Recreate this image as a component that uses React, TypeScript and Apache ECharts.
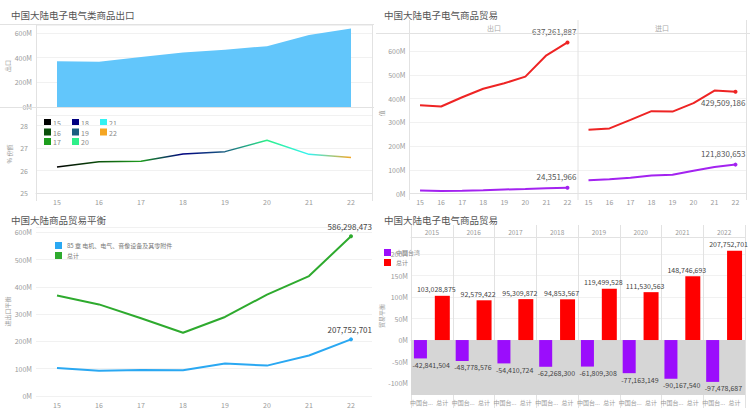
import React, { useEffect, useRef } from "react";
import * as echarts from "echarts";

const years = ["15", "16", "17", "18", "19", "20", "21", "22"];
const fullYears = ["2015", "2016", "2017", "2018", "2019", "2020", "2021", "2022"];
const yearColors = ["#000000", "#0b4f0b", "#1e9e1e", "#000080", "#1a5e80", "#2ef08a", "#33f2f2", "#f5a623"];

const elecExports = [372e6, 367e6, 406e6, 442e6, 465e6, 493e6, 583e6, 637261887];
const elecImports = [268.97e6, 274.42e6, 310.69e6, 347.15e6, 345.5e6, 381.47e6, 434.25e6, 429509186];
const twExports = [13e6, 11e6, 12e6, 14e6, 17e6, 19e6, 22e6, 24351966];
const twImports = [55.8e6, 59.8e6, 66.4e6, 76.3e6, 78.8e6, 96.2e6, 112.2e6, 121830653];
const sharePct = [26.16, 26.39, 26.41, 26.74, 26.84, 27.35, 26.72, 26.58];
const elecBalance = [103028875, 92579422, 95309872, 94853567, 119499528, 111530563, 148746693, 207752701];
const totalBalance = [369e6, 336e6, 285e6, 232e6, 290e6, 372e6, 440e6, 586298473];
const twBalance = [-42841504, -48778576, -54410724, -62268300, -61809308, -77163149, -90167540, -97478687];

const titles = ["中国大陆电子电气类商品出口", "中国大陆电子电气商品贸易", "中国大陆商品贸易平衡", "中国大陆电子电气商品贸易"];
const facets = ["出口", "进口"];
const balanceNames = ["85 章 电机、电气、音像设备及其零附件", "总计"];
const barNames = ["中国台湾", "总计"];

const FONT = "'Noto Sans CJK SC', 'Noto Sans', sans-serif";
const LBL = "#9a9a9a";
const GRIDC = "#f1f1f1";
const BORDER = "#e2e2e2";

const fmtM = (v: number) => Math.round(v / 1e6) + "M";
const fmtN = (v: number) => Math.round(v).toLocaleString("en-US");

function lastLabeled(arr: number[], label: any) {
  return arr.map((v, i) => (i === arr.length - 1 ? { value: v, label: { show: true, ...label } } : v));
}

export default function App() {
  const ref = useRef<HTMLDivElement>(null);
  useEffect(() => {
    document.body.style.margin = "0";
    const chart = echarts.init(ref.current!, null, { renderer: "svg" });

    const xCat = (gridIndex: number, extra: any = {}) => ({
      type: "category",
      gridIndex,
      data: years,
      boundaryGap: true,
      axisLine: { show: true, lineStyle: { color: BORDER } },
      axisTick: { show: false },
      axisLabel: { color: LBL, fontSize: 7, margin: 5, fontFamily: FONT },
      ...extra,
    });
    const yVal = (gridIndex: number, extra: any = {}) => ({
      type: "value",
      gridIndex,
      axisLine: { show: false },
      axisTick: { show: false },
      splitLine: { lineStyle: { color: GRIDC } },
      axisLabel: { color: LBL, fontSize: 7, margin: 4, formatter: fmtM, fontFamily: FONT, showMaxLabel: false },
      nameLocation: "middle",
      nameTextStyle: { color: LBL, fontSize: 6, fontFamily: FONT },
      ...extra,
    });

    const barCats: string[] = [];
    fullYears.forEach((y) => barNames.forEach((n) => barCats.push(y + "|" + n)));
    const purpleData: any[] = [];
    const redData: any[] = [];
    twBalance.forEach((v, i) => {
      purpleData.push(v, "-");
      redData.push("-", elecBalance[i]);
    });

    const legendGraphics: any[] = [];
    years.forEach((y, i) => {
      const col = Math.floor(i / 3);
      const row = i % 3;
      const x = 44 + col * 28;
      const yy = 119 + row * 9.5;
      legendGraphics.push({ type: "rect", shape: { x, y: yy, width: 7, height: 7 }, style: { fill: yearColors[i] } });
      legendGraphics.push({
        type: "text",
        x: x + 9,
        y: yy + 4,
        style: { text: y, fill: "#888", fontSize: 7, fontFamily: FONT, verticalAlign: "middle" },
      });
    });

    const line = (x1: number, y1: number, x2: number, y2: number) => ({
      type: "line",
      shape: { x1, y1, x2, y2 },
      style: { stroke: BORDER, lineWidth: 1 },
      z: 10,
    });

    const option: any = {
      animation: false,
      textStyle: { fontFamily: FONT },
      title: [
        { text: titles[0], left: 6, top: 5 },
        { text: titles[1], left: 379, top: 5 },
        { text: titles[2], left: 6, top: 210 },
        { text: titles[3], left: 379, top: 210 },
      ].map((t) => ({ ...t, textStyle: { fontSize: 9.5, color: "#555", fontWeight: "normal", fontFamily: FONT } })),
      legend: [
        {
          data: balanceNames,
          orient: "vertical",
          left: 50,
          top: 237,
          itemWidth: 7,
          itemHeight: 7,
          itemGap: 3,
          icon: "rect",
          textStyle: { fontSize: 6, color: "#777", fontFamily: FONT },
        },
        {
          data: barNames.map((n) => n + "|b"),
          formatter: (n: string) => n.split("|")[0],
          orient: "vertical",
          left: 379,
          top: 244,
          itemWidth: 7,
          itemHeight: 7,
          itemGap: 3,
          icon: "rect",
          textStyle: { fontSize: 6, color: "#888", fontFamily: FONT },
        },
      ],
      grid: [
        { left: 36, top: 25, width: 336, height: 82 },
        { left: 36, top: 115, width: 336, height: 78 },
        { left: 409.5, top: 33, width: 168.5, height: 160.5 },
        { left: 578, top: 33, width: 168, height: 160.5 },
        { left: 36, top: 227, width: 336, height: 169 },
        { left: 411, top: 237, width: 334, height: 158 },
      ],
      xAxis: [
        xCat(0, { axisLine: { show: false }, axisLabel: { show: false } }),
        xCat(1),
        xCat(2),
        xCat(3),
        xCat(4, { axisLine: { show: false } }),
        {
          type: "category",
          gridIndex: 5,
          data: barCats,
          axisLine: { show: true, lineStyle: { color: BORDER } },
          axisTick: { show: false },
          axisLabel: {
            color: LBL,
            fontSize: 6,
            margin: 4,
            interval: 0,
            fontFamily: FONT,
            formatter: (v: string) => {
              const n = v.split("|")[1];
              return n.length > 3 ? n.slice(0, 3) + "..." : n;
            },
          },
        },
        {
          type: "category",
          gridIndex: 5,
          position: "top",
          data: fullYears,
          axisLine: { show: true, lineStyle: { color: BORDER } },
          axisTick: { show: true, length: 12, lineStyle: { color: BORDER } },
          splitLine: { show: true, lineStyle: { color: BORDER } },
          axisLabel: { color: LBL, fontSize: 6.5, margin: 1.5, fontFamily: FONT },
        },
        {
          type: "category",
          gridIndex: 5,
          position: "bottom",
          data: fullYears,
          axisLine: { show: false },
          axisTick: { show: true, length: 13, lineStyle: { color: BORDER } },
          axisLabel: { show: false },
        },
      ],
      yAxis: [
        yVal(0, { min: 0, max: 665e6, interval: 200e6, name: "出口", nameGap: 24 }),
        yVal(1, {
          min: 25,
          max: 28.47,
          interval: 1,
          name: "% 份额",
          nameGap: 24,
          axisLabel: { color: LBL, fontSize: 7, margin: 8, fontFamily: FONT, showMaxLabel: false },
        }),
        yVal(2, { min: 0, max: 677e6, interval: 100e6, name: "值", nameGap: 22 }),
        yVal(3, { min: 0, max: 677e6, interval: 100e6, axisLabel: { show: false } }),
        yVal(4, { min: 0, max: 620e6, interval: 100e6, name: "进出口平衡", nameGap: 24 }),
        yVal(5, {
          min: -128e6,
          max: 240e6,
          axisLine: { show: true, lineStyle: { color: BORDER } },
          axisLabel: {
            color: LBL,
            fontSize: 7,
            margin: 3,
            fontFamily: FONT,
            formatter: fmtM,
            customValues: [-100e6, -50e6, 0, 50e6, 100e6, 150e6, 200e6],
          },
          axisTick: { show: false, customValues: [-100e6, -50e6, 0, 50e6, 100e6, 150e6, 200e6] },
          name: "贸易平衡",
          nameGap: 22,
        }),
      ],
      series: [
        {
          name: "电子电气出口",
          type: "line",
          xAxisIndex: 0,
          yAxisIndex: 0,
          data: elecExports,
          symbol: "none",
          lineStyle: { width: 0 },
          areaStyle: { color: "#62c6fb", opacity: 1 },
        },
        {
          name: "份额",
          type: "line",
          xAxisIndex: 1,
          yAxisIndex: 1,
          data: sharePct,
          symbol: "none",
          lineStyle: {
            width: 1.5,
            color: new echarts.graphic.LinearGradient(
              0,
              0,
              1,
              0,
              yearColors.map((c, i) => ({ offset: i / (yearColors.length - 1), color: c }))
            ),
          },
        },
        ...[
          { d: elecExports, x: 2, c: "#ee2424", lab: { position: "top", align: "right", offset: [9, 0] } },
          { d: twExports, x: 2, c: "#a323f0", lab: { position: "top", align: "right", offset: [9, 0] } },
          { d: elecImports, x: 3, c: "#ee2424", lab: { position: "bottom", align: "right", offset: [10, 0] } },
          { d: twImports, x: 3, c: "#a323f0", lab: { position: "top", align: "right", offset: [10, 0] } },
        ].map((s, k) => ({
          name: "贸易" + k,
          type: "line",
          xAxisIndex: s.x,
          yAxisIndex: s.x,
          data: lastLabeled(s.d, { ...s.lab, formatter: (p: any) => fmtN(p.value), fontSize: 8, color: "#555" }),
          symbol: "circle",
          symbolSize: (_v: any, p: any) => (p.dataIndex === s.d.length - 1 ? 4 : 0),
          itemStyle: { color: s.c },
          lineStyle: { width: 2, color: s.c },
          label: { show: false },
        })),
        ...[
          { d: elecBalance, c: "#2aa8f2", n: balanceNames[0] },
          { d: totalBalance, c: "#2eaa2e", n: balanceNames[1] },
        ].map((s) => ({
          name: s.n,
          type: "line",
          xAxisIndex: 4,
          yAxisIndex: 4,
          data: lastLabeled(s.d, {
            position: "top",
            align: "right",
            offset: [21, 1],
            formatter: (p: any) => fmtN(p.value),
            fontSize: 8,
            color: "#444",
          }),
          symbol: "circle",
          symbolSize: (_v: any, p: any) => (p.dataIndex === s.d.length - 1 ? 4 : 0),
          itemStyle: { color: s.c },
          lineStyle: { width: 2, color: s.c },
          label: { show: false },
        })),
        {
          name: barNames[0] + "|b",
          type: "bar",
          xAxisIndex: 5,
          yAxisIndex: 5,
          data: purpleData,
          barWidth: 13,
          barGap: "-100%",
          itemStyle: { color: "#9b0dfc" },
          label: {
            show: true,
            position: "bottom",
            align: "left",
            offset: [-8, 0],
            distance: 3,
            fontSize: 7,
            color: "#444",
            formatter: (p: any) => fmtN(p.value),
          },
          markArea: {
            silent: true,
            itemStyle: { color: "#d6d6d6" },
            data: [[{ yAxis: -128e6 }, { yAxis: 0 }]],
          },
        },
        {
          name: barNames[1] + "|b",
          type: "bar",
          xAxisIndex: 5,
          yAxisIndex: 5,
          data: redData,
          barWidth: 15,
          barGap: "-100%",
          itemStyle: { color: "#ff0000" },
          label: {
            show: true,
            position: "top",
            offset: [-6, 0],
            distance: 3,
            fontSize: 7,
            color: "#444",
            formatter: (p: any) => fmtN(p.value),
          },
        },
      ],
      graphic: [
        line(0, 24.5, 374, 24.5),
        line(0, 107.5, 374, 107.5),
        line(36.5, 24, 36.5, 201),
        line(372.5, 24, 372.5, 201),
        line(376, 33.5, 750, 33.5),
        line(409.5, 20, 409.5, 200),
        line(578, 20, 578, 200),
        line(746.5, 20, 746.5, 200),
        {
          type: "text",
          x: 494,
          y: 28,
          style: { text: facets[0], fill: "#aaa", fontSize: 7, fontFamily: FONT, align: "center", verticalAlign: "middle" },
        },
        {
          type: "text",
          x: 662,
          y: 28,
          style: { text: facets[1], fill: "#aaa", fontSize: 7, fontFamily: FONT, align: "center", verticalAlign: "middle" },
        },
        ...legendGraphics,
      ],
    };
    chart.setOption(option);
    return () => chart.dispose();
  }, []);
  return <div ref={ref} style={{ width: 750, height: 408 }} />;
}
